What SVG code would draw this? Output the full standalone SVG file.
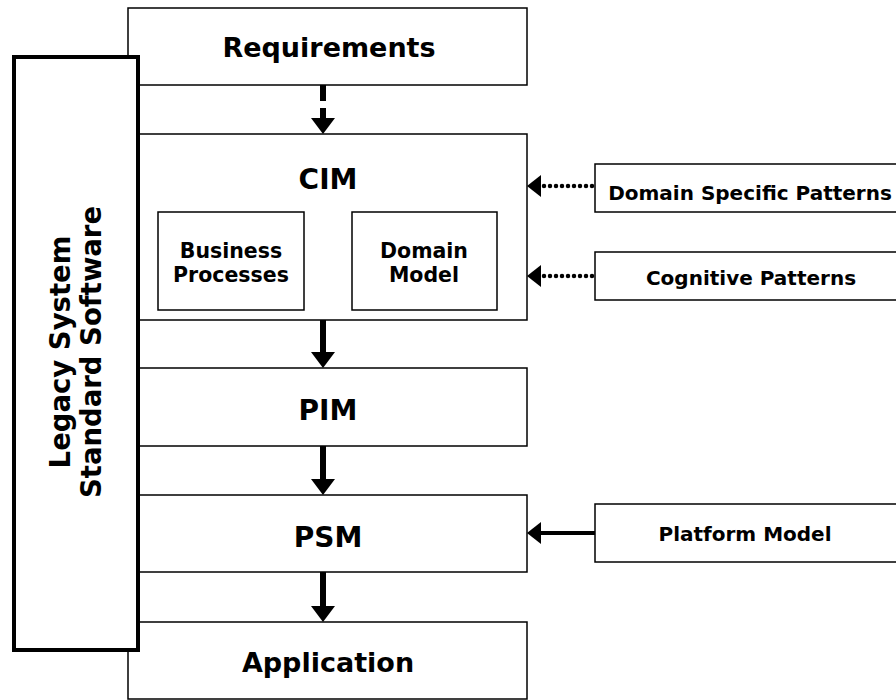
<svg xmlns="http://www.w3.org/2000/svg" width="896" height="700" viewBox="0 0 896 700">
  <defs>
    <style>
      .box { fill: #fff; stroke: #000; stroke-width: 1.5; }
      .legacy { fill: #fff; stroke: #000; stroke-width: 4; }
      text { font-family: "DejaVu Sans", Verdana, sans-serif; font-weight: bold; fill: #000; text-anchor: middle; }
      .big { font-size: 27px; }
      .mid { font-size: 28px; }
      .leg { font-size: 27.5px; }
      .small { font-size: 20.5px; }
      .side { font-size: 20px; }
      .down { stroke: #000; stroke-width: 6; fill: none; }
      .left { stroke: #000; stroke-width: 4; fill: none; }
      .dots { stroke: #000; stroke-width: 4.5; fill: none; stroke-dasharray: 0 6; stroke-linecap: round; }
      .head { fill: #000; }
    </style>
  </defs>

  <!-- main chain -->
  <g id="requirements">
    <rect class="box" x="128" y="8" width="399" height="77"/>
    <text class="big" x="329" y="57">Requirements</text>
  </g>
  <g id="cim">
    <rect class="box" x="128" y="134" width="399" height="186"/>
    <text class="mid" x="328" y="189">CIM</text>
  </g>
  <g id="business-processes">
    <rect class="box" x="158" y="212" width="146" height="98"/>
    <text class="small" x="231" y="258">Business</text>
    <text class="small" x="231" y="282">Processes</text>
  </g>
  <g id="domain-model">
    <rect class="box" x="352" y="212" width="145" height="98"/>
    <text class="small" x="424" y="258">Domain</text>
    <text class="small" x="424" y="282">Model</text>
  </g>
  <g id="pim">
    <rect class="box" x="128" y="368" width="399" height="78"/>
    <text class="mid" x="328" y="420">PIM</text>
  </g>
  <g id="psm">
    <rect class="box" x="128" y="495" width="399" height="77"/>
    <text class="mid" x="328" y="547">PSM</text>
  </g>
  <g id="application">
    <rect class="box" x="128" y="622" width="399" height="77"/>
    <text class="big" x="328" y="672">Application</text>
  </g>

  <!-- legacy side bar -->
  <g id="legacy">
    <rect class="legacy" x="14" y="57" width="124" height="593"/>
    <text class="leg" transform="translate(70,352) rotate(-90)">Legacy System</text>
    <text class="leg" transform="translate(101,352) rotate(-90)">Standard Software</text>
  </g>

  <!-- pattern / platform inputs -->
  <g id="domain-specific-patterns">
    <rect class="box" x="595" y="164" width="310" height="48"/>
    <text class="side" x="750" y="200">Domain Specific Patterns</text>
  </g>
  <g id="cognitive-patterns">
    <rect class="box" x="595" y="252" width="310" height="48"/>
    <text class="side" x="751" y="285">Cognitive Patterns</text>
  </g>
  <g id="platform-model">
    <rect class="box" x="595" y="504" width="310" height="58"/>
    <text class="side" x="745" y="541">Platform Model</text>
  </g>

  <!-- connectors -->
  <g id="connectors">
    <line class="down" x1="323" y1="85" x2="323" y2="101"/>
    <line class="down" x1="323" y1="108" x2="323" y2="119"/>
    <path class="head" d="M311,118 L335,118 L323,134 Z"/>
    <line class="down" x1="323" y1="320" x2="323" y2="353"/>
    <path class="head" d="M311,352 L335,352 L323,368 Z"/>
    <line class="down" x1="323" y1="446" x2="323" y2="480"/>
    <path class="head" d="M311,479 L335,479 L323,495 Z"/>
    <line class="down" x1="323" y1="572" x2="323" y2="607"/>
    <path class="head" d="M311,606 L335,606 L323,622 Z"/>
    <line class="dots" x1="592" y1="186" x2="543" y2="186"/>
    <path class="head" d="M541,175 L527,186 L541,197 Z"/>
    <line class="dots" x1="592" y1="276" x2="543" y2="276"/>
    <path class="head" d="M541,265 L527,276 L541,287 Z"/>
    <line class="left" x1="595" y1="533" x2="539" y2="533"/>
    <path class="head" d="M541,522 L527,533 L541,544 Z"/>
  </g>
</svg>
